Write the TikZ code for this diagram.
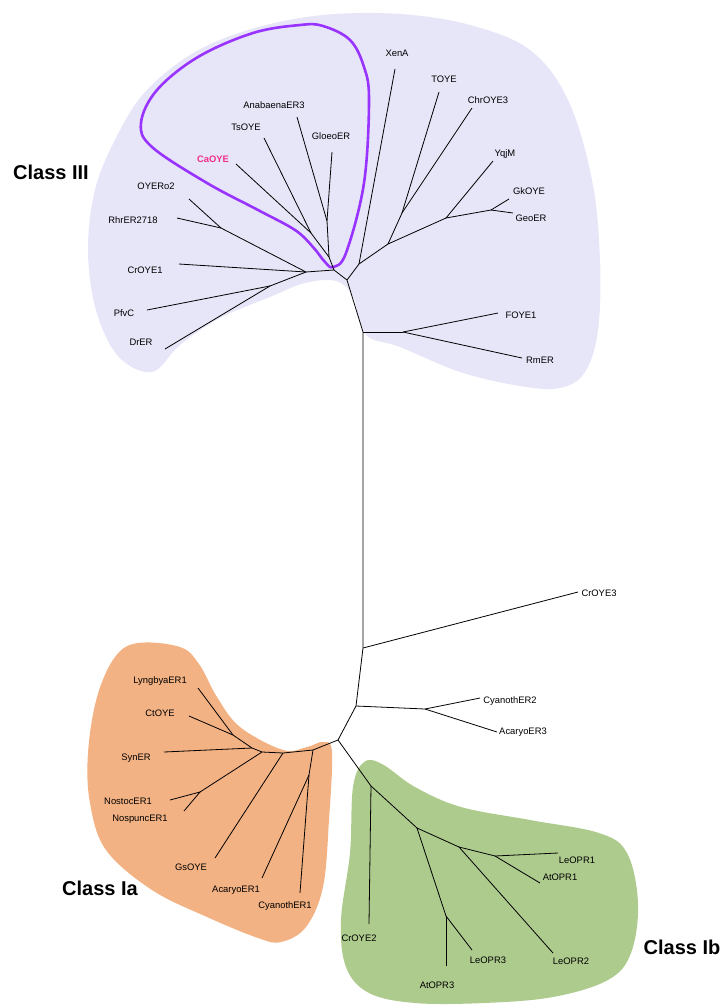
\documentclass[tikz,border=0pt]{standalone}
\usepackage{fontspec}
\setmainfont{Liberation Sans}
\usetikzlibrary{calc}
\definecolor{lavfill}{HTML}{E7E5F8}
\definecolor{orgfill}{HTML}{F3B283}
\definecolor{grnfill}{HTML}{AECB8E}
\definecolor{loopcol}{HTML}{9933FF}
\definecolor{pinktxt}{HTML}{F0308C}
\tikzset{
    leaf/.style={
        font=\fontsize{9.4}{10}\selectfont, % 标签字号
        inner sep=0
    },
    branch/.style={
        draw=black,
        line width=0.8pt
    },
    classlab/.style={
        font=\fontsize{20}{22}\selectfont\bfseries,
        inner sep=0
    }
}

\begin{document}
\begin{tikzpicture}[x=1pt, y=-1pt]
\useasboundingbox (0,0) rectangle (722,1005);

% 背景区域
\fill[lavfill] plot[smooth cycle, tension=0.6] coordinates {
    (323,15) (400,14) (470,25) (530,50) (568,100) (592,180) (600,260)
    (598,330) (585,372) (560,388) (520,386) (460,372) (400,347) (370,338)
    (359,320) (353,296) (336,281) (305,283) (270,297) (220,318) (180,345)
    (152,372) (118,356) (96,310) (88,250) (95,190) (115,140) (145,92)
    (195,52) (255,28)};
\fill[orgfill] plot[smooth cycle, tension=0.6] coordinates {
    (138,643) (180,647) (199,664) (217,697) (240,727) (283,750) (307,747)
    (323,742) (332,752) (329,820) (323,887) (306,927) (281,942) (258,938)
    (207,917) (152,890) (106,850) (90,803) (88,753) (97,697) (115,657)};
\fill[grnfill] plot[smooth cycle, tension=0.6] coordinates {
    (364,762) (382,764) (415,787) (461,807) (530,820) (599,833) (627,853)
    (638,903) (631,953) (608,980) (553,997) (484,1003) (415,1003) (369,993)
    (346,967) (341,920) (350,853) (353,787)};

% 紫色圈
\draw[loopcol, line width=2.6pt] plot[smooth cycle, tension=0.6] coordinates {
    (333,267) (346,253) (364,183) (369,100) (364,67) (350,40) (323,26)
    (300,25) (253,33) (198,57) (157,90) (141,123) (152,147) (207,183)
    (258,210) (295,230) (313,247) (325,262)};

% 定义点
\coordinate (R3) at (347,280);
\coordinate (C1) at (334,270);
\coordinate (P0) at (329,257);
\coordinate (P1) at (311,233);
\coordinate (P2) at (327,221);
\coordinate (L1) at (306,272);
\coordinate (OR) at (221,228);
\coordinate (PD) at (270,286);
\coordinate (X1) at (359,264);
\coordinate (A1) at (388,244);
\coordinate (B1) at (402,213);
\coordinate (Y1) at (446,218);
\coordinate (G1) at (491,210);
\coordinate (T1) at (363,332);
\coordinate (F1) at (403,332);
\coordinate (T2) at (363,648);
\coordinate (T3) at (356,706);
\coordinate (C2) at (425,709);
\coordinate (T4) at (338,740);
\coordinate (I1) at (313,750);
\coordinate (I2) at (283,753);
\coordinate (I3) at (262,752);
\coordinate (I4) at (252,748);
\coordinate (LC) at (233,735);
\coordinate (N1) at (200,792);
\coordinate (I5) at (309,775);
\coordinate (B0) at (371,786);
\coordinate (B1b) at (417,828);
\coordinate (B2) at (459,847);
\coordinate (B3) at (495,856);
\coordinate (B4) at (446,916);

% 叶子
\coordinate (XenA) at (395,69);
\coordinate (TOYE) at (439,92);
\coordinate (ChrOYE3) at (472,108);
\coordinate (YqjM) at (493,161);
\coordinate (GkOYE) at (509,199);
\coordinate (GeoER) at (513,213);
\coordinate (FOYE1) at (498,313);
\coordinate (RmER) at (522,358);
\coordinate (AnaER3) at (297,117);
\coordinate (TsOYE) at (264,138);
\coordinate (GloeoER) at (332,152);
\coordinate (CaOYE) at (236,164);
\coordinate (OYERo2) at (189,199);
\coordinate (RhrER) at (177,218);
\coordinate (CrOYE1) at (179,264);
\coordinate (PfvC) at (147,310);
\coordinate (DrER) at (165,349);
\coordinate (CrOYE3) at (578,592);
\coordinate (CyER2) at (480,698);
\coordinate (AcER3) at (497,732);
\coordinate (LyngER1) at (198,688);
\coordinate (CtOYE) at (189,716);
\coordinate (SynER) at (164,752);
\coordinate (NostER1) at (170,800);
\coordinate (NospER1) at (184,811);
\coordinate (GsOYE) at (215,858);
\coordinate (AcER1) at (262,878);
\coordinate (CyER1) at (300,893);
\coordinate (CrOYE2) at (369,924);
\coordinate (AtOPR3) at (446,966);
\coordinate (LeOPR3) at (472,950);
\coordinate (LeOPR2) at (553,953);
\coordinate (LeOPR1) at (558,853);
\coordinate (AtOPR1) at (540,883);

% Class III
\draw[branch] (C1) -- (R3) -- (T1) -- (T2) -- (T3) -- (T4);
\draw[branch] (P0) -- (C1);
\draw[branch] (L1) -- (C1);
\draw[branch] (P1) -- (P0);
\draw[branch] (P2) -- (P0);
\draw[branch] (CaOYE) -- (P1);
\draw[branch] (TsOYE) -- (P1);
\draw[branch] (AnaER3) -- (P2);
\draw[branch] (GloeoER) -- (P2);
\draw[branch] (OR) -- (L1);
\draw[branch] (OYERo2) -- (OR);
\draw[branch] (RhrER) -- (OR);
\draw[branch] (CrOYE1) -- (L1);
\draw[branch] (PD) -- (L1);
\draw[branch] (PfvC) -- (PD);
\draw[branch] (DrER) -- (PD);
\draw[branch] (R3) -- (X1) -- (A1);
\draw[branch] (X1) -- (XenA);
\draw[branch] (A1) -- (B1);
\draw[branch] (B1) -- (TOYE);
\draw[branch] (B1) -- (ChrOYE3);
\draw[branch] (A1) -- (Y1) -- (G1);
\draw[branch] (Y1) -- (YqjM);
\draw[branch] (G1) -- (GkOYE);
\draw[branch] (G1) -- (GeoER);
\draw[branch] (T1) -- (F1);
\draw[branch] (F1) -- (FOYE1);
\draw[branch] (F1) -- (RmER);

% 中间
\draw[branch] (T2) -- (CrOYE3);
\draw[branch] (T3) -- (C2);
\draw[branch] (C2) -- (CyER2);
\draw[branch] (C2) -- (AcER3);

% Class Ia
\draw[branch] (T4) -- (I1) -- (I2) -- (I3) -- (I4);
\draw[branch] (I4) -- (LC);
\draw[branch] (LC) -- (LyngER1);
\draw[branch] (LC) -- (CtOYE);
\draw[branch] (I4) -- (SynER);
\draw[branch] (I3) -- (N1);
\draw[branch] (N1) -- (NostER1);
\draw[branch] (N1) -- (NospER1);
\draw[branch] (I2) -- (GsOYE);
\draw[branch] (I1) -- (I5);
\draw[branch] (I5) -- (AcER1);
\draw[branch] (I5) -- (CyER1);

% Class Ib
\draw[branch] (T4) -- (B0) -- (B1b) -- (B2) -- (B3);
\draw[branch] (B0) -- (CrOYE2);
\draw[branch] (B1b) -- (B4);
\draw[branch] (B4) -- (AtOPR3);
\draw[branch] (B4) -- (LeOPR3);
\draw[branch] (B2) -- (LeOPR2);
\draw[branch] (B3) -- (LeOPR1);
\draw[branch] (B3) -- (AtOPR1);

% 标签
\node[leaf] (lXenA) at (397,53) {XenA};
\node[leaf] (lTOYE) at (444,79) {TOYE};
\node[leaf] (lChrOYE3) at (488,100) {ChrOYE3};
\node[leaf] (lYqjM) at (505,154) {YqjM};
\node[leaf] (lGkOYE) at (529,191) {GkOYE};
\node[leaf] (lGeoER) at (531,218) {GeoER};
\node[leaf] (lFOYE1) at (521,315) {FOYE1};
\node[leaf] (lRmER) at (540,360) {RmER};
\node[leaf] (lAnaER3) at (274,105) {AnabaenaER3};
\node[leaf] (lTsOYE) at (246,127) {TsOYE};
\node[leaf] (lGloeoER) at (331,136) {GloeoER};
\node[leaf, text=pinktxt, font=\fontsize{9.4}{10}\selectfont\bfseries] (lCaOYE) at (213,159) {CaOYE};
\node[leaf] (lOYERo2) at (156,186) {OYERo2};
\node[leaf] (lRhrER) at (133,220) {RhrER2718};
\node[leaf] (lCrOYE1) at (145,270) {CrOYE1};
\node[leaf] (lPfvC) at (124,313) {PfvC};
\node[leaf] (lDrER) at (141,342) {DrER};
\node[leaf] (lCrOYE3) at (599,593) {CrOYE3};
\node[leaf] (lCyER2) at (510,701) {CyanothER2};
\node[leaf] (lAcER3) at (523,732) {AcaryoER3};
\node[leaf] (lLyngER1) at (160,681) {LyngbyaER1};
\node[leaf] (lCtOYE) at (160,713) {CtOYE};
\node[leaf] (lSynER) at (136,758) {SynER};
\node[leaf] (lNostER1) at (128,801) {NostocER1};
\node[leaf] (lNospER1) at (140,819) {NospuncER1};
\node[leaf] (lGsOYE) at (191,867) {GsOYE};
\node[leaf] (lAcER1) at (236,890) {AcaryoER1};
\node[leaf] (lCyER1) at (285,906) {CyanothER1};
\node[leaf] (lCrOYE2) at (359,938) {CrOYE2};
\node[leaf] (lAtOPR3) at (437,985) {AtOPR3};
\node[leaf] (lLeOPR3) at (488,960) {LeOPR3};
\node[leaf] (lLeOPR2) at (571,961) {LeOPR2};
\node[leaf] (lLeOPR1) at (577,860) {LeOPR1};
\node[leaf] (lAtOPR1) at (560,877) {AtOPR1};

\node[classlab] (cIII) at (51,172) {Class III};
\node[classlab] (cIa) at (100,888) {Class Ia};
\node[classlab] (cIb) at (682,947) {Class Ib};

\end{tikzpicture}
\end{document}
